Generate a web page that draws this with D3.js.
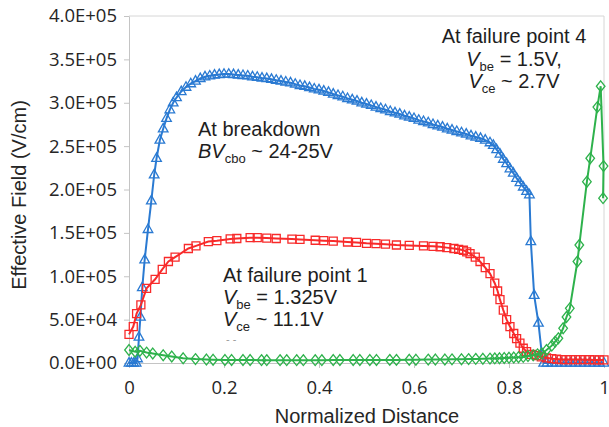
<!DOCTYPE html>
<html>
<head>
<meta charset="utf-8">
<script src="https://cdn.jsdelivr.net/npm/d3@7"></script>
<style>
  body { margin: 0; background: #fff; }
  svg { display: block; }
</style>
</head>
<body>
<script>
'use strict'

let width = 609
let height = 427
let margin = { top: 16, right: 5, bottom: 64, left: 129 }

let xTicks = [0, 0.2, 0.4, 0.6, 0.8, 1]
let xTickLabels = ["0", "0.2", "0.4", "0.6", "0.8", "1"]
let yTicks = [0, 50000, 100000, 150000, 200000, 250000, 300000, 350000, 400000]
let yTickLabels = ["0.0E+00", "5.0E+04", "1.0E+05", "1.5E+05", "2.0E+05",
                   "2.5E+05", "3.0E+05", "3.5E+05", "4.0E+05"]

// [normalized distance, effective field V/cm]
let breakdown = [
  [0,0],[0.005,0],[0.01,0],[0.015,0],[0.018,5e3],[0.021,30e3],[0.024,53e3],[0.028,87e3],
  [0.033,119e3],[0.04,154e3],[0.047,187e3],[0.053,217e3],[0.058,236e3],[0.065,257e3],
  [0.072,270e3],[0.079,282e3],[0.086,292e3],[0.093,300e3],[0.1,306e3],[0.11,313e3],
  [0.12,318e3],[0.13,322e3],[0.14,325e3],[0.15,328e3],[0.16,330e3],[0.17,331e3],
  [0.18,332e3],[0.19,332.5e3],[0.2,333e3],[0.21,333e3],[0.22,332.5e3],[0.23,332e3],
  [0.24,331.5e3],[0.25,331e3],[0.26,330e3],[0.27,329.5e3],[0.28,328.5e3],[0.29,328e3],
  [0.3,327e3],[0.31,326e3],[0.32,325e3],[0.33,324e3],[0.34,323e3],[0.35,321.5e3],
  [0.36,320e3],[0.37,319e3],[0.38,317.5e3],[0.39,316e3],[0.4,315e3],[0.41,313.5e3],
  [0.42,312e3],[0.43,310e3],[0.44,308.5e3],[0.45,307e3],[0.46,305e3],[0.47,303.5e3],
  [0.48,302e3],[0.49,300e3],[0.5,298.5e3],[0.51,297e3],[0.52,295e3],[0.53,293.5e3],
  [0.54,292e3],[0.55,290e3],[0.56,288.5e3],[0.57,287e3],[0.58,285e3],[0.59,283.5e3],
  [0.6,282e3],[0.61,280e3],[0.62,278.5e3],[0.63,277e3],[0.64,275e3],[0.65,273.5e3],
  [0.66,272e3],[0.67,270e3],[0.68,268.5e3],[0.69,267e3],[0.7,265.5e3],[0.71,264e3],
  [0.72,262e3],[0.73,260.5e3],[0.74,259e3],[0.75,257e3],[0.76,254e3],[0.767,251e3],
  [0.774,246e3],[0.781,241e3],[0.788,235e3],[0.795,230e3],[0.802,224e3],[0.809,219e3],
  [0.816,213e3],[0.823,208e3],[0.83,203e3],[0.837,198e3],[0.843,194e3],[0.846,140e3],
  [0.853,78e3],[0.862,46e3],[0.869,11e3],[0.873,0],[0.88,0],[0.89,0],[0.9,0],[0.91,0],
  [0.92,0],[0.93,0],[0.94,0],[0.95,0],[0.96,0],[0.97,0],[0.98,0],[0.99,0],[1,0]
]

let failure1 = [
  [0,33e3],[0.009,42e3],[0.016,57e3],[0.025,67e3],[0.037,86e3],[0.055,96.5e3],[0.07,108e3],
  [0.083,117e3],[0.097,122e3],[0.125,132e3],[0.141,135e3],[0.167,140e3],[0.185,141e3],
  [0.213,143e3],[0.227,143.5e3],[0.255,144.5e3],[0.27,144.5e3],[0.29,144e3],[0.31,143.5e3],
  [0.343,142.8e3],[0.36,142.5e3],[0.392,141.5e3],[0.41,141e3],[0.43,140.5e3],[0.46,139.5e3],
  [0.479,139e3],[0.5,138e3],[0.52,137.5e3],[0.54,137e3],[0.563,136e3],[0.59,135.5e3],
  [0.62,135e3],[0.64,134.5e3],[0.655,134e3],[0.669,133e3],[0.684,132e3],[0.694,131e3],
  [0.704,130e3],[0.711,128e3],[0.718,126e3],[0.729,122e3],[0.739,117e3],[0.75,110e3],
  [0.76,103e3],[0.77,92e3],[0.776,83e3],[0.781,73e3],[0.788,61e3],[0.795,50e3],[0.802,42e3],
  [0.81,34e3],[0.816,28e3],[0.823,23e3],[0.83,17e3],[0.837,13e3],[0.847,10e3],[0.858,8.5e3],
  [0.868,7e3],[0.879,6e3],[0.89,5e3],[0.9,4.5e3],[0.91,4e3],[0.92,4e3],[0.93,4e3],[0.94,4e3],
  [0.95,4e3],[0.96,3.8e3],[0.97,3.8e3],[0.98,3.6e3],[0.99,3.5e3],[1,3.5e3]
]

let failure4 = [
  [0,15e3],[0.013,13e3],[0.023,14e3],[0.037,12e3],[0.05,11e3],[0.072,9e3],[0.09,7.5e3],
  [0.114,5.4e3],[0.14,4.5e3],[0.163,4e3],[0.177,3.8e3],[0.202,3.5e3],[0.216,3.5e3],
  [0.24,3.4e3],[0.255,3.4e3],[0.279,3.3e3],[0.29,3.3e3],[0.318,3.3e3],[0.332,3.3e3],
  [0.353,3.3e3],[0.367,3.3e3],[0.392,3.3e3],[0.406,3.3e3],[0.43,3.4e3],[0.444,3.4e3],
  [0.472,3.4e3],[0.486,3.5e3],[0.507,3.5e3],[0.521,3.5e3],[0.549,3.6e3],[0.563,3.6e3],
  [0.59,3.7e3],[0.604,3.8e3],[0.63,3.9e3],[0.645,4e3],[0.665,4.1e3],[0.68,4.2e3],
  [0.7,4.4e3],[0.715,4.5e3],[0.73,4.7e3],[0.745,4.9e3],[0.76,5.1e3],[0.77,5.3e3],
  [0.78,5.5e3],[0.79,5.8e3],[0.8,6e3],[0.81,6.3e3],[0.82,6.7e3],[0.83,7e3],[0.84,8e3],
  [0.851,9e3],[0.86,10e3],[0.869,11e3],[0.879,15e3],[0.89,20e3],[0.897,24.6e3],
  [0.904,28.5e3],[0.914,40e3],[0.921,53e3],[0.928,63e3],[0.944,117e3],[0.948,136e3],
  [0.964,209e3],[0.971,236e3],[0.986,295e3],[0.993,319e3],[0.999,227e3],[0.998,190e3]
]

let sansFont = "'Liberation Sans', Arial, sans-serif"
let tickFont = "'Open Sans', 'Liberation Sans', sans-serif"
let axisGrey = "#c4c4c4"

let svg = d3.select("body").append("svg")
  .attr("width", width)
  .attr("height", height)

let x = d3.scaleLinear().domain([0, 1]).range([margin.left, width - margin.right])
let y = d3.scaleLinear().domain([0, 400000]).range([height - margin.bottom, margin.top])

// frame (top + right)
svg.append("path")
  .attr("d", "M" + x(0) + "," + y(400000) + "H" + x(1) + "V" + y(0))
  .attr("fill", "none")
  .attr("stroke", "#d6d6d6")
  .attr("stroke-width", 1)

let yAxis = d3.axisLeft(y)
  .tickValues(yTicks)
  .tickFormat((d, i) => yTickLabels[i])
  .tickSize(5)
  .tickSizeOuter(0)
  .tickPadding(7)

let xAxis = d3.axisBottom(x)
  .tickValues(xTicks)
  .tickFormat((d, i) => xTickLabels[i])
  .tickSize(5)
  .tickSizeOuter(0)
  .tickPadding(13)

let gy = svg.append("g")
  .attr("transform", "translate(" + x(0) + ",0)")
  .call(yAxis)
let gx = svg.append("g")
  .attr("transform", "translate(0," + y(0) + ")")
  .call(xAxis)

for (let g of [gx, gy]) {
  g.select(".domain").attr("stroke", axisGrey)
  g.selectAll(".tick line").attr("stroke", axisGrey)
  g.selectAll(".tick text")
    .attr("fill", "#262626")
    .style("font-family", tickFont)
    .style("font-size", "18.5px")
}

// axis titles
svg.append("text")
  .attr("text-anchor", "middle")
  .attr("transform", "translate(26,195)rotate(-90)")
  .style("font-family", sansFont)
  .style("font-size", "20px")
  .attr("fill", "#262626")
  .text("Effective Field (V/cm)")

svg.append("text")
  .attr("text-anchor", "middle")
  .attr("x", 367)
  .attr("y", 423)
  .style("font-family", sansFont)
  .style("font-size", "20px")
  .attr("fill", "#262626")
  .text("Normalized Distance")

// series
let markers = {
  triangle: "M0,-5.4L4.8,3.1L-4.8,3.1Z",
  square: "M-4,-4H4V4H-4Z",
  diamond: "M0,-5.4L4.3,0L0,5.4L-4.3,0Z"
}

let series = [
  { data: breakdown, color: "#2a7ad2", marker: markers.triangle },
  { data: failure1, color: "#f82a2a", marker: markers.square },
  { data: failure4, color: "#2eb24c", marker: markers.diamond }
]

let line = d3.line()
  .x(d => x(d[0]))
  .y(d => y(d[1]))

for (let s of series) {
  let g = svg.append("g")
  g.append("path")
    .datum(s.data)
    .attr("d", line)
    .attr("fill", "none")
    .attr("stroke", s.color)
    .attr("stroke-width", 2)
  g.selectAll("path.mk")
    .data(s.data)
    .enter()
    .append("path")
    .attr("class", "mk")
    .attr("d", s.marker)
    .attr("transform", d => "translate(" + x(d[0]) + "," + y(d[1]) + ")")
    .attr("fill", "none")
    .attr("stroke", s.color)
    .attr("stroke-width", 1.3)
}

// annotations: each line is a list of [text, kind]
function note(lines, px, py, anchor, lh) {
  lines.forEach((parts, i) => {
    let t = svg.append("text")
      .attr("x", px)
      .attr("y", py + i * lh)
      .attr("text-anchor", anchor)
      .style("font-family", sansFont)
      .style("font-size", "20px")
      .attr("fill", "#1e1e1e")
    let shift = 0
    for (let p of parts) {
      let ts = t.append("tspan").text(p[0])
      if (p[1] == "it") ts.style("font-style", "italic")
      if (p[1] == "sub") {
        ts.style("font-size", "13px").attr("dy", 5 - shift)
        shift = 5
      } else if (shift) {
        ts.attr("dy", -shift)
        shift = 0
      }
    }
  })
}

note([
  [["At breakdown", ""]],
  [["BV", "it"], ["cbo", "sub"], [" ~ 24-25V", ""]]
], 198, 136, "start", 22)

note([
  [["At failure point 4", ""]],
  [["V", "it"], ["be", "sub"], [" = 1.5V,", ""]],
  [["V", "it"], ["ce", "sub"], [" ~ 2.7V", ""]]
], 514, 43, "middle", 22.7)

note([
  [["At failure point 1", ""]],
  [["V", "it"], ["be", "sub"], [" = 1.325V", ""]],
  [["V", "it"], ["ce", "sub"], [" ~ 11.1V", ""]]
], 223, 282, "start", 22.2)

svg.append("text")
  .attr("x", 226)
  .attr("y", 343)
  .style("font-family", sansFont)
  .style("font-size", "11px")
  .attr("fill", "#9a9a9a")
  .text("- -")
</script>
</body>
</html>
